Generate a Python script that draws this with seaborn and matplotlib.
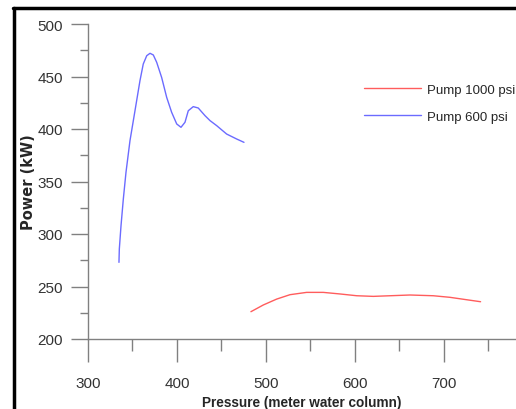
import matplotlib
matplotlib.use("Agg")
import matplotlib.pyplot as plt
from matplotlib.lines import Line2D
from matplotlib.ticker import MultipleLocator
import pandas as pd
import seaborn as sns

# Values
p600_pressure = [334.8, 335.2, 337.1, 339.7, 342.7, 347.2, 352.8, 358.4, 362.1,
                 366.0, 369.7, 373.4, 377.2, 382.8, 388.4, 394.0, 399.7, 404.5,
                 409.0, 412.7, 418.3, 423.9, 431.5, 437.1, 444.6, 455.8, 467.0,
                 475.3]
p600_power = [273.0, 285.7, 307.9, 333.3, 358.8, 389.0, 417.4, 446.0, 461.9,
              469.8, 472.1, 470.5, 463.5, 449.0, 430.2, 415.9, 404.8, 401.6,
              406.4, 417.4, 421.3, 420.0, 412.7, 408.0, 403.2, 395.2, 390.5,
              387.3]

p1000_pressure = [483.1, 497.0, 512.0, 527.0, 545.7, 564.4, 583.1, 602.0, 620.6,
                  661.8, 688.0, 706.7, 725.5, 741.2]
p1000_power = [226.0, 232.4, 238.0, 242.2, 244.4, 244.4, 242.9, 241.2, 240.6,
               241.9, 241.2, 239.7, 237.4, 235.5]

series_names = ["Pump 1000 psi", "Pump 600 psi"]
series_colors = ["#ff5c5c", "#6b6bff"]

df = pd.concat([
    pd.DataFrame({"pressure": p1000_pressure, "power": p1000_power, "pump": series_names[0]}),
    pd.DataFrame({"pressure": p600_pressure, "power": p600_power, "pump": series_names[1]}),
], ignore_index=True)

sns.set_style("white")
plt.rcParams["font.family"] = ["Liberation Sans", "DejaVu Sans"]

fig = plt.figure(figsize=(5.16, 4.10), dpi=100)
ax = fig.add_axes([88 / 516, 70 / 410, 1 - 88 / 516, 315 / 410])

sns.lineplot(data=df, x="pressure", y="power", hue="pump", sort=False,
             palette=dict(zip(series_names, series_colors)), linewidth=1.0,
             estimator=None, ax=ax)

ax.set_xlim(300, 781)
ax.set_ylim(200, 500)
ax.xaxis.set_major_locator(MultipleLocator(100))
ax.xaxis.set_minor_locator(MultipleLocator(50))
ax.yaxis.set_major_locator(MultipleLocator(50))
ax.yaxis.set_minor_locator(MultipleLocator(25))

for side in ["top", "right"]:
    ax.spines[side].set_visible(False)
for side in ["left", "bottom"]:
    ax.spines[side].set_color("#808080")
    ax.spines[side].set_linewidth(1.0)

ax.tick_params(axis="x", which="major", direction="out", length=16.5, width=1,
               color="#808080", pad=10, labelsize=11, labelcolor="#333333", bottom=True)
ax.tick_params(axis="x", which="minor", direction="out", length=8.5, width=1,
               color="#808080", bottom=True)
ax.tick_params(axis="y", which="major", direction="out", length=12, width=1,
               color="#808080", pad=6, labelsize=11, labelcolor="#333333", left=True)
ax.tick_params(axis="y", which="minor", direction="out", length=6, width=1,
               color="#808080", left=True)

ax.set_xlabel("Pressure (meter water column)", fontsize=9.8, fontweight="bold")
ax.xaxis.set_label_coords(0.5, -0.178)
ax.set_ylabel("Power (kW)", fontsize=10.5, fontweight="bold", family="DejaVu Sans")
ax.yaxis.set_label_coords(-0.122, 0.5)

ax.legend(frameon=False, title=None, loc="upper left",
          bbox_to_anchor=(0.645, 0.81), fontsize=9.5, borderpad=0, borderaxespad=0,
          handlelength=4.3, handletextpad=0.45, labelspacing=1.09)

# black frame on left and top of the figure
fig.add_artist(Line2D([13.5 / 516, 13.5 / 516], [0, 1 - 9 / 410], color="black",
                      linewidth=2.5, transform=fig.transFigure))
fig.add_artist(Line2D([12.6 / 516, 1], [1 - 9 / 410, 1 - 9 / 410], color="black",
                      linewidth=2.5, transform=fig.transFigure))

fig.savefig("out.png", dpi=100)
